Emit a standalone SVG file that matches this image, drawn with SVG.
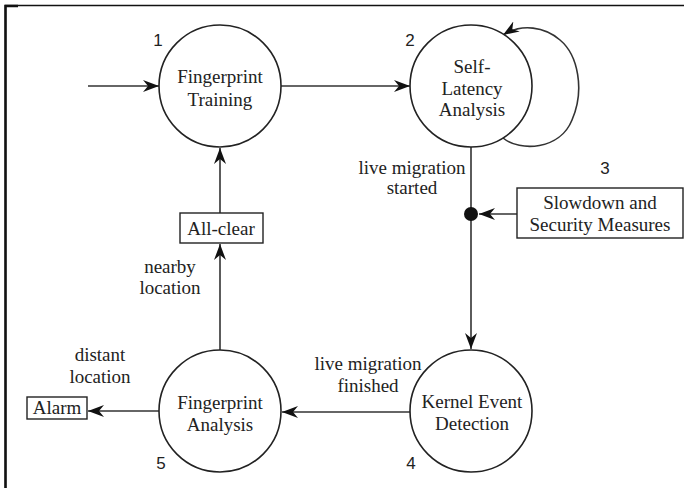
<svg xmlns="http://www.w3.org/2000/svg" width="684" height="488" viewBox="0 0 684 488">
  <style>
    .node { fill: #fff; stroke: #222; stroke-width: 1.6; }
    .box { fill: #fff; stroke: #222; stroke-width: 1.4; }
    .edge { fill: none; stroke: #333; stroke-width: 1.6; }
    .lbl { font-family: "Liberation Serif", "Times New Roman", serif; font-size: 19px; fill: #222; text-anchor: middle; }
    .num { font-family: "Liberation Sans", Arial, sans-serif; font-size: 17px; fill: #222; text-anchor: middle; }
  </style>
  <defs>
    <marker id="arrow" viewBox="0 0 16 12" refX="16" refY="6" markerWidth="16" markerHeight="12" markerUnits="userSpaceOnUse" orient="auto">
      <path d="M0,0 L16,6 L0,12 L5,6 z" fill="#111"/>
    </marker>
  </defs>

  <rect width="684" height="488" fill="#fff"/>
  <!-- outer frame: left and top edges -->
  <path d="M5.5 488 V5.5 H684" fill="none" stroke="#111" stroke-width="1.5"/>
  <path d="M5.5 488 V6 H18" fill="none" stroke="#111" stroke-width="2.5"/>

  <g id="connectors">
    <line class="edge" x1="88" y1="86" x2="159" y2="86" marker-end="url(#arrow)"/>
    <line class="edge" x1="281" y1="86" x2="410" y2="86" marker-end="url(#arrow)"/>
    <path class="edge" d="M503 138 C520 152 560 150 572 120 C585 90 578 55 560 40 C545 27 522 23 503 35" marker-end="url(#arrow)"/>
    <line class="edge" x1="471" y1="147" x2="471" y2="349" marker-end="url(#arrow)"/>
    <line class="edge" x1="517" y1="214" x2="479" y2="214" marker-end="url(#arrow)"/>
    <circle cx="471" cy="214" r="7" fill="#111"/>
    <line class="edge" x1="410" y1="412" x2="282" y2="412" marker-end="url(#arrow)"/>
    <line class="edge" x1="159" y1="411" x2="88" y2="411" marker-end="url(#arrow)"/>
    <line class="edge" x1="220" y1="350" x2="220" y2="244" marker-end="url(#arrow)"/>
    <line class="edge" x1="220" y1="213" x2="220" y2="148" marker-end="url(#arrow)"/>
    <text class="lbl" x="412" y="174">live migration</text>
    <text class="lbl" x="412" y="194">started</text>
    <text class="lbl" x="368" y="370">live migration</text>
    <text class="lbl" x="368" y="392">finished</text>
    <text class="lbl" x="100" y="361">distant</text>
    <text class="lbl" x="100" y="383">location</text>
    <text class="lbl" x="170" y="273">nearby</text>
    <text class="lbl" x="170" y="294">location</text>
  </g>

  <g id="fingerprint-training">
    <circle class="node" cx="220" cy="86" r="61"/>
    <text class="lbl" x="220" y="83">Fingerprint</text>
    <text class="lbl" x="220" y="106">Training</text>
    <text class="num" x="158" y="46">1</text>
  </g>

  <g id="self-latency-analysis">
    <circle class="node" cx="471" cy="86" r="61"/>
    <text class="lbl" x="472" y="73">Self-</text>
    <text class="lbl" x="472" y="95">Latency</text>
    <text class="lbl" x="472" y="116">Analysis</text>
    <text class="num" x="410" y="46">2</text>
  </g>

  <g id="slowdown-security">
    <rect class="box" x="517" y="188" width="166" height="50"/>
    <text class="lbl" x="600" y="209">Slowdown and</text>
    <text class="lbl" x="600" y="231">Security Measures</text>
    <text class="num" x="605" y="174">3</text>
  </g>

  <g id="kernel-event-detection">
    <circle class="node" cx="471" cy="411" r="61"/>
    <text class="lbl" x="472" y="408">Kernel Event</text>
    <text class="lbl" x="472" y="430">Detection</text>
    <text class="num" x="411" y="469">4</text>
  </g>

  <g id="fingerprint-analysis">
    <circle class="node" cx="220" cy="411" r="61"/>
    <text class="lbl" x="220" y="409">Fingerprint</text>
    <text class="lbl" x="220" y="431">Analysis</text>
    <text class="num" x="161" y="469">5</text>
  </g>

  <g id="all-clear">
    <rect class="box" x="180" y="213" width="83" height="30"/>
    <text class="lbl" x="221" y="235">All-clear</text>
  </g>

  <g id="alarm">
    <rect class="box" x="27" y="397" width="60" height="22"/>
    <text class="lbl" x="57" y="414">Alarm</text>
  </g>
</svg>
